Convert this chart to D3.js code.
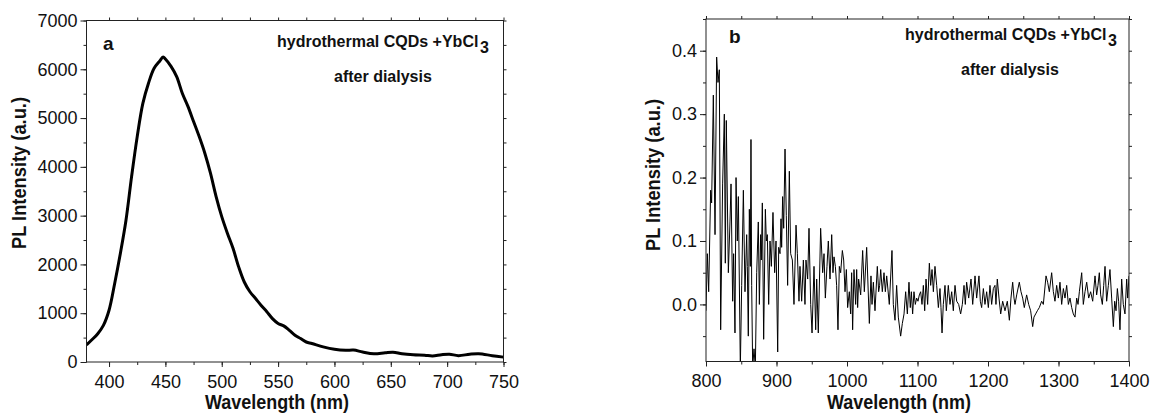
<!DOCTYPE html>
<html>
<head>
<meta charset="utf-8">
<script src="https://cdn.jsdelivr.net/npm/d3@7"></script>
<style>
  body { margin: 0; background: #fff; }
  text { font-family: 'Liberation Sans', Arial, Helvetica, sans-serif; fill: #111; }
</style>
</head>
<body>
<div id="my_dataviz"></div>
<script>
// panel a: visible PL spectrum
var wavelengthA = [380, 385, 390, 395, 400, 405, 410, 415, 420, 425, 430, 435, 440, 445, 448,
    450, 455, 460, 465, 470, 475, 480, 485, 490, 495, 500, 505, 510, 515, 520, 525, 530, 535,
    540, 545, 550, 555, 560, 565, 570, 575, 580, 590, 600, 610, 617, 625, 635, 645, 652, 660,
    670, 680, 687, 695, 702, 710, 720, 728, 740, 750];
var intensityA = [350, 460, 580, 750, 1060, 1610, 2220, 2900, 3800, 4620, 5300, 5715, 6020, 6170, 6250,
    6210, 6060, 5850, 5510, 5240, 4930, 4620, 4280, 3870, 3390, 2980, 2640, 2330, 1950, 1640, 1440, 1300, 1160,
    1030, 890, 790, 740, 650, 550, 480, 410, 380, 310, 260, 240, 245, 205, 170, 190, 200, 170,
    150, 140, 125, 150, 160, 130, 160, 170, 130, 100];

// panel b: NIR PL spectrum (noisy)
var wavelengthB = [800, 801.9, 803.8, 806.6, 808, 810.4, 812.8, 815.1, 817, 818.9, 820.8, 823.6, 826, 827.4,
    828.8, 831.7, 834, 835.5, 837.8, 839.2, 841.1, 842.6, 844.4, 845.9, 848.7, 850.6, 853, 855.3, 857.7,
    858.6, 860, 861.5, 862.9, 863.8, 864.8, 866.2, 868.1, 870, 871.9, 874.2, 875.7, 877.5, 878.5, 879.9,
    881.8, 884.2, 885.6, 887, 888.9, 890.8, 892.7, 895, 897.4, 899.3, 901.7, 903.1, 905, 906.4, 907.3,
    908.7, 910.2, 912.1, 913.9, 915.8, 918.2, 920.1, 922.5, 924.8, 927.7, 929.6, 931.9, 933.3, 935.7,
    938.1, 940.4, 941.8, 944.2, 946.1, 948.5, 950.4, 953.2, 955.6, 957, 959.3, 962.6, 965.5, 967.4, 969.3,
    971.6, 973.5, 975.9, 978.3, 980.1, 981.6, 983.5, 985.3, 987.2, 989.1, 991, 993.4, 995.3, 997.2, 999.1,
    1000.9, 1003.3, 1005.2, 1006.6, 1008, 1009.9, 1012.3, 1013.7, 1015.1, 1016.5, 1019.4, 1022.2, 1024.6,
    1027.9, 1031.7, 1034, 1035.5, 1037.4, 1039.7, 1043, 1044.9, 1046.3, 1047.8, 1050.1, 1052.5, 1054.4,
    1056.3, 1060, 1063.8, 1065.7, 1068.1, 1070.4, 1072.8, 1076.1, 1078.5, 1080.9, 1083.2, 1085.6, 1087.9,
    1089.8, 1091.3, 1093.1, 1095, 1096.9, 1098.8, 1100.7, 1102.6, 1104.5, 1106.4, 1108.3, 1110.2, 1112.1,
    1114.4, 1116.8, 1118.7, 1120.6, 1122.5, 1124.8, 1127.2, 1129.6, 1131.9, 1133.3, 1134.8, 1136.6, 1139,
    1140.9, 1142.3, 1143.7, 1146.1, 1148.5, 1150.8, 1153.2, 1155.6, 1158.4, 1161.2, 1163.6, 1166, 1167.8,
    1169.7, 1172.6, 1175.9, 1178.3, 1181.6, 1183.9, 1187.2, 1189.1, 1191, 1193.4, 1195.7, 1198.1, 1200.5,
    1202.8, 1205.2, 1207.6, 1209.9, 1211.3, 1213.2, 1215.6, 1218, 1220.8, 1224.1, 1227.4, 1230.3, 1232.6,
    1235, 1236.9, 1238.3, 1240.7, 1244.4, 1246.8, 1249.2, 1251.5, 1254.8, 1257.7, 1260.5, 1263.4, 1265.2,
    1267.6, 1270, 1272.8, 1276.1, 1278.5, 1282.3, 1284.6, 1287, 1290.3, 1292.7, 1295, 1297.4, 1299.8,
    1302.1, 1304.5, 1306.9, 1309.2, 1311.6, 1314, 1316.3, 1318.7, 1321, 1323.4, 1325.8, 1327.7, 1329.6,
    1332.9, 1335.2, 1337.6, 1340, 1342.8, 1345.6, 1348.5, 1351.8, 1354.1, 1356, 1357.9, 1359.8, 1362.2,
    1364.1, 1366, 1368.3, 1370.7, 1373, 1375.4, 1377.8, 1379.7, 1381.6, 1383.5, 1385.3, 1387.2, 1389.6,
    1391.9, 1394.3, 1396.7, 1398.1, 1400];
var intensityB = [-0.01, 0.08, 0.02, 0.18, 0.16, 0.33, 0.11, 0.39, 0.35, 0.37, -0.04, 0.19, 0.30, 0.065,
    0.29, 0.05, 0.13, 0.19, 0.005, 0.08, -0.045, 0.20, 0.10, 0.17, -0.10, 0.03, 0.18, 0.02, 0.11,
    0.06, -0.05, 0.15, 0.06, 0.26, 0.03, -0.10, -0.07, -0.10, 0.05, 0.13, 0.0, 0.11, 0.07, 0.16,
    -0.055, 0.15, 0.10, 0.11, 0.0, 0.10, 0.06, 0.145, 0.05, 0.10, -0.075, 0.09, 0.08, 0.135, 0.09,
    0.17, 0.12, 0.245, 0.14, 0.03, 0.21, 0.08, 0.07, 0.0, 0.125, 0.08, 0.005, 0.06, 0.005,
    0.07, 0.0, 0.07, 0.04, 0.12, 0.0, -0.045, 0.06, -0.04, 0.04, -0.045, 0.12, 0.05, 0.08, 0.01,
    0.06, 0.10, 0.04, 0.11, 0.05, 0.075, 0.06, 0.03, -0.04, 0.06, 0.05, 0.085, 0.07, 0.02, 0.055,
    -0.005, 0.02, -0.015, 0.05, -0.04, 0.055, 0.0, 0.055, -0.005, 0.04, 0.015, 0.085, 0.02,
    0.09, -0.03, 0.045, 0.0, 0.035, -0.01, 0.06, 0.02, 0.03, 0.055, 0.02, 0.05, 0.02,
    0.045, 0.0, 0.085, 0.0, -0.025, 0.03, -0.02, -0.05, -0.03, -0.015, 0.02, -0.015, 0.035,
    -0.005, 0.02, -0.015, 0.02, 0.0, 0.01, 0.005, 0.015, 0.02, 0.0, 0.03, -0.01, 0.04,
    0.0, 0.065, 0.03, 0.055, 0.02, 0.06, 0.03, -0.005, 0.025, -0.005, -0.045, 0.0, 0.03,
    -0.01, 0.01, 0.03, 0.0, 0.02, -0.01, 0.03, 0.005, 0.0, -0.015, 0.0, 0.03, 0.0,
    0.035, 0.01, 0.04, 0.0, 0.045, 0.01, 0.045, 0.005, -0.005, 0.025, 0.0, 0.02, -0.005,
    0.03, 0.0, 0.025, 0.03, 0.0, 0.04, 0.01, -0.015, 0.005, -0.01, 0.005, -0.025, 0.01,
    0.035, 0.01, 0.0, 0.015, 0.035, 0.02, 0.01, -0.005, 0.015, 0.0, -0.01, -0.035, -0.02,
    -0.015, -0.01, -0.005, 0.005, 0.0, 0.045, 0.035, 0.02, 0.05, 0.02, 0.005, 0.03, 0.01,
    0.035, 0.0, 0.025, 0.01, 0.03, 0.0, 0.01, -0.005, -0.015, -0.02, 0.01, 0.0, 0.02,
    0.05, 0.0, 0.02, 0.035, 0.01, 0.02, 0.005, 0.045, 0.015, 0.03, 0.05, 0.015, 0.0,
    0.03, 0.06, 0.005, 0.03, 0.055, 0.01, -0.035, 0.005, -0.01, 0.025, 0.005, -0.04, 0.04,
    0.0, -0.015, 0.04, 0.01, 0.045];

// tick values
var xTicksA = [400, 450, 500, 550, 600, 650, 700, 750];
var yTicksA = [0, 1000, 2000, 3000, 4000, 5000, 6000, 7000];
var xTicksB = [800, 900, 1000, 1100, 1200, 1300, 1400];
var yTicksB = [0.0, 0.1, 0.2, 0.3, 0.4];

var width = 1151;
var height = 413;

var svg = d3.select("#my_dataviz")
    .append("svg")
    .attr("width", width)
    .attr("height", height);

function drawPanel(p) {
    var x = d3.scaleLinear().domain(p.xDomain).range([p.left, p.right]);
    var y = d3.scaleLinear().domain(p.yDomain).range([p.bottom, p.top]);
    var g = svg.append("g");

    // clip the trace to the frame
    g.append("clipPath")
        .attr("id", p.id + "-clip")
        .append("rect")
        .attr("x", p.left)
        .attr("y", p.top)
        .attr("width", p.right - p.left)
        .attr("height", p.bottom - p.top);

    var data = p.xs.map(function (d, i) { return [d, p.ys[i]]; });
    var line = d3.line()
        .x(function (d) { return x(d[0]); })
        .y(function (d) { return y(d[1]); });
    if (p.smooth) line.curve(d3.curveCatmullRom);

    g.append("path")
        .datum(data)
        .attr("clip-path", "url(#" + p.id + "-clip)")
        .attr("fill", "none")
        .attr("stroke", "#000")
        .attr("stroke-width", p.lineWidth)
        .attr("stroke-linejoin", "round")
        .attr("d", line);

    // minor ticks on all four sides
    var axes = [
        [d3.axisBottom(x).tickValues(p.xMinor), "translate(0," + p.bottom + ")"],
        [d3.axisTop(x).tickValues(p.xMinor), "translate(0," + p.top + ")"],
        [d3.axisLeft(y).tickValues(p.yMinor), "translate(" + p.left + ",0)"],
        [d3.axisRight(y).tickValues(p.yMinor), "translate(" + p.right + ",0)"]
    ];
    axes.forEach(function (a) {
        g.append("g")
            .attr("transform", a[1])
            .call(a[0].tickSize(3).tickSizeOuter(0).tickFormat(""))
            .call(function (s) { s.select(".domain").remove(); })
            .selectAll("line").attr("stroke", "#222");
    });

    // major ticks with labels
    g.append("g")
        .attr("transform", "translate(0," + p.bottom + ")")
        .call(d3.axisBottom(x).tickValues(p.xTicks).tickSize(5).tickSizeOuter(0).tickPadding(8)
            .tickFormat(d3.format("d")))
        .call(function (s) {
            s.select(".domain").remove();
            s.selectAll("line").attr("stroke", "#222");
            s.selectAll("text").attr("font-size", 18).attr("font-family", null).attr("fill", "#111");
        });
    g.append("g")
        .attr("transform", "translate(" + p.left + ",0)")
        .call(d3.axisLeft(y).tickValues(p.yTicks).tickSize(6).tickSizeOuter(0).tickPadding(3)
            .tickFormat(p.yFormat))
        .call(function (s) {
            s.select(".domain").remove();
            s.selectAll("line").attr("stroke", "#222");
            s.selectAll("text").attr("font-size", 18).attr("font-family", null).attr("fill", "#111");
        });

    // frame
    g.append("rect")
        .attr("x", p.left)
        .attr("y", p.top)
        .attr("width", p.right - p.left)
        .attr("height", p.bottom - p.top)
        .attr("fill", "none")
        .attr("stroke", "#222")
        .attr("stroke-width", 1);

    // axis titles
    g.append("text")
        .attr("x", p.xTitleX)
        .attr("y", 409)
        .attr("text-anchor", "middle")
        .attr("font-size", 21)
        .attr("font-weight", "bold")
        .attr("textLength", 144)
        .attr("lengthAdjust", "spacingAndGlyphs")
        .text("Wavelength (nm)");
    g.append("text")
        .attr("transform", "translate(" + p.yTitleX + "," + p.yTitleY + ") rotate(-90)")
        .attr("text-anchor", "middle")
        .attr("font-size", 20)
        .attr("font-weight", "bold")
        .attr("textLength", 152)
        .attr("lengthAdjust", "spacingAndGlyphs")
        .text("PL Intensity (a.u.)");

    // panel letter and annotation (YbCl with subscript 3)
    g.append("text")
        .attr("x", p.letterX)
        .attr("y", p.letterY)
        .attr("font-size", 19)
        .attr("font-weight", "bold")
        .text(p.letter);
    g.append("text")
        .attr("x", p.noteX)
        .attr("y", p.noteY)
        .attr("font-size", 16)
        .attr("font-weight", "bold")
        .text("hydrothermal CQDs +YbCl");
    g.append("text")
        .attr("x", p.noteX + 203)
        .attr("y", p.noteY + 6)
        .attr("font-size", 16)
        .attr("font-weight", "bold")
        .text("3");
    g.append("text")
        .attr("x", p.note2X)
        .attr("y", p.noteY + 35)
        .attr("font-size", 16)
        .attr("font-weight", "bold")
        .text("after dialysis");
}

drawPanel({
    id: "a",
    xs: wavelengthA, ys: intensityA,
    xDomain: [380, 750], yDomain: [0, 7000],
    left: 86.5, right: 503.5, top: 20.5, bottom: 362,
    xTicks: xTicksA, yTicks: yTicksA,
    xMinor: d3.range(400, 751, 25), yMinor: d3.range(0, 7001, 500),
    yFormat: d3.format("d"),
    smooth: true, lineWidth: 3,
    xTitleX: 277, yTitleX: 26, yTitleY: 173,
    letter: "a", letterX: 103, letterY: 50,
    noteX: 277, noteY: 46.5, note2X: 334
});

drawPanel({
    id: "b",
    xs: wavelengthB, ys: intensityB,
    xDomain: [800, 1400], yDomain: [-0.09, 0.45],
    left: 706, right: 1129, top: 19, bottom: 361.5,
    xTicks: xTicksB, yTicks: yTicksB,
    xMinor: d3.range(800, 1401, 50), yMinor: [-0.05, 0, 0.05, 0.1, 0.15, 0.2, 0.25, 0.3, 0.35, 0.4, 0.45],
    yFormat: d3.format(".1f"),
    smooth: false, lineWidth: 1,
    xTitleX: 899, yTitleX: 660, yTitleY: 175,
    letter: "b", letterX: 729, letterY: 42.5,
    noteX: 905, noteY: 40, note2X: 961
});
</script>
</body>
</html>
